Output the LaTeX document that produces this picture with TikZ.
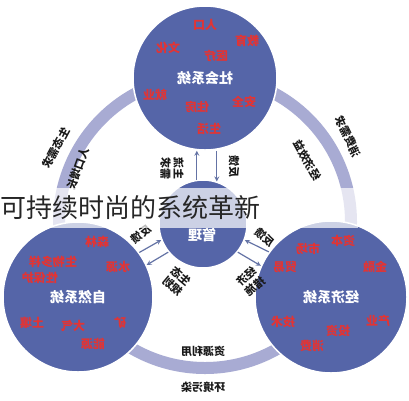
\documentclass[tikz,border=0pt]{standalone}
\usepackage{fontspec}
\newfontfamily\cjk{Noto Sans CJK SC}
\definecolor{sysblue}{RGB}{85,101,168}
\definecolor{ringblue}{RGB}{168,171,211}
\definecolor{wordred}{RGB}{226,52,52}
\definecolor{linkblue}{RGB}{100,115,165}

\begin{document}
\begin{tikzpicture}[x=1pt,y=-1pt,
	sys/.style={circle,fill=sysblue,draw=white,line width=1.5pt,inner sep=0pt,text=white,font=\cjk\bfseries\fontsize{14}{16}\selectfont},
	word/.style={text=wordred,font=\cjk\bfseries\fontsize{12}{14}\selectfont,inner sep=0pt},
	tag/.style={text=black!90,font=\cjk\bfseries\fontsize{11}{13}\selectfont,inner sep=0pt,align=center},
	link/.style={draw=linkblue,line width=1.2pt,-stealth},
	ring/.style={draw=ringblue,line width=12pt},
	]
	\useasboundingbox[fill=white] (0,0) rectangle (409,400);
	% outer ring
	\draw[ring] (205,222) circle[radius=146];
	% the four systems
	\node[sys,minimum size=144pt] (soc) at (205,78) {\reflectbox{社会系统}};
	\node[sys,minimum size=150pt] (nat) at (78,297) {\reflectbox{自然系统}};
	\node[sys,minimum size=152pt] (eco) at (331,297) {\reflectbox{经济系统}};
	\node[sys,minimum size=88pt] (cen) at (203,224) {};
	\node[text=white,inner sep=0pt,font=\cjk\bfseries\fontsize{14}{16}\selectfont] (mgmt) at (202,235) {\reflectbox{管理}};
	% red words
	\foreach \x/\y/\w [count=\i] in {205/25/人口,247/41/教育,168/48/文化,216/56/医疗,155/95/就业,197/107/住房,244/102/安全,209/129/生活}
		\node[word] (s\i) at (\x,\y) {\reflectbox{\w}};
	\foreach \x/\y/\w [count=\i] in {97/242/森林,53/262/生物多样,40/278/性保护,118/267/水源,32/323/土壤,73/326/大气,120/323/矿,93/344/能源}
		\node[word] (n\i) at (\x,\y) {\reflectbox{\w}};
	\foreach \x/\y/\w [count=\i] in {343/241/资本,308/249/市场,285/267/贸易,375/267/金融,283/322/技术,338/331/投资,312/346/消费,378/321/产业}
		\node[word] (e\i) at (\x,\y) {\reflectbox{\w}};
	% links to management
	\draw[link] (cen.98) -- (cen.98 |- soc.south);
	\draw[link] (soc.south -| cen.72) -- (cen.72);
	\draw[link] (nat.36) -- (cen.201);
	\draw[link] (cen.219) -- (nat.25);
	\draw[link] (eco.144) -- (cen.339);
	\draw[link] (cen.321) -- (eco.156);
	\node[tag,rotate=-90] (t1) at (172,168) {\reflectbox{主流}\\\reflectbox{需求}};
	\node[tag,rotate=-90] (t2) at (234,166) {\reflectbox{反馈}};
	\node[tag,rotate=39] (t3) at (141,234) {\reflectbox{反馈}};
	\node[tag,rotate=-40] (t4) at (177,281) {\reflectbox{生态}\\\reflectbox{规划}};
	\node[tag,rotate=-39] (t5) at (265,237) {\reflectbox{反馈}};
	\node[tag,rotate=40] (t6) at (251,281) {\reflectbox{经济}\\\reflectbox{措施}};
	% ring labels
	\node[tag,rotate=62] (r1) at (56,148) {\reflectbox{生态需求}};
	\node[tag,rotate=70] (r2) at (78,169) {\reflectbox{人口增长}};
	\node[tag,rotate=-64] (r3) at (348,137) {\reflectbox{消费需求}};
	\node[tag,rotate=-61] (r4) at (307,160) {\reflectbox{经济效益}};
	\node[tag] (r5) at (203,351) {\reflectbox{资源利用}};
	\node[tag] (r6) at (203,387) {\reflectbox{环境污染}};
	% title banner
	\fill[white,opacity=0.7] (0,188) rectangle (358,228);
	\node[anchor=west,inner sep=0pt,text=black!85,font=\cjk\fontsize{26}{28}\selectfont] (title) at (0,208) {可持续时尚的系统革新};
\end{tikzpicture}
\end{document}
